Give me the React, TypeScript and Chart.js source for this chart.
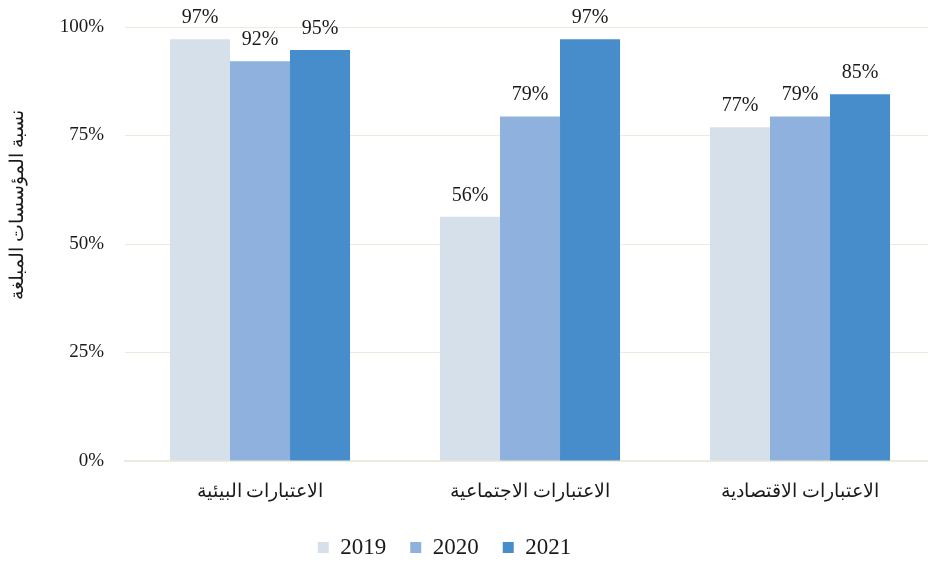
import React, { useEffect, useRef } from "react";
import { Chart, registerables } from "chart.js";

Chart.register(...registerables);

const categories = ["الاعتبارات البيئية", "الاعتبارات الاجتماعية", "الاعتبارات الاقتصادية"];
const seriesNames = ["2019", "2020", "2021"];
const values2019 = [97.2, 56.3, 76.9];
const values2020 = [92.1, 79.4, 79.4];
const values2021 = [94.7, 97.2, 84.5];
const yTicks = [0, 25, 50, 75, 100];
const colors = ["#D6E0EA", "#8EB1DE", "#478DCB"];
const yTitle = "نسبة المؤسسات المبلغة";

const FONT = "'Liberation Serif', 'Times New Roman', serif";
const SHIFT = 46;

const dataLabelPlugin = {
  id: "dataLabels",
  afterDatasetsDraw(chart: any) {
    const ctx = chart.ctx;
    ctx.save();
    ctx.font = `20px ${FONT}`;
    ctx.fillStyle = "#1a1a1a";
    ctx.textAlign = "center";
    ctx.textBaseline = "alphabetic";
    chart.data.datasets.forEach((ds: any, i: number) => {
      const meta = chart.getDatasetMeta(i);
      meta.data.forEach((bar: any, j: number) => {
        const v = ds.data[j];
        ctx.fillText(Math.round(v) + "%", bar.x, bar.y - 16);
      });
    });
    ctx.restore();
  },
};

const yTitlePlugin = {
  id: "yTitle",
  afterDraw(chart: any) {
    const ctx = chart.ctx;
    const a = chart.chartArea;
    ctx.save();
    ctx.font = `18.5px ${FONT}`;
    ctx.fillStyle = "#1a1a1a";
    ctx.textAlign = "center";
    ctx.textBaseline = "middle";
    ctx.translate(a.left - 107, a.top + (a.bottom - a.top) * 0.41);
    ctx.rotate(-Math.PI / 2);
    ctx.fillText(yTitle, 0, 0);
    ctx.restore();
  },
};

export default function App() {
  const ref = useRef<HTMLCanvasElement | null>(null);
  useEffect(() => {
    if (!ref.current) return;
    const chart = new Chart(ref.current, {
      type: "bar",
      data: {
        labels: categories,
        datasets: [values2019, values2020, values2021].map((d, i) => ({
          label: seriesNames[i],
          data: d,
          backgroundColor: colors[i],
          borderWidth: 0,
          barPercentage: 1,
          categoryPercentage: 0.667,
        })),
      },
      options: {
        animation: false,
        responsive: false,
        maintainAspectRatio: false,
        layout: { padding: { top: 27, right: 0, left: 0, bottom: 0 } },
        plugins: {
          legend: {
            position: "bottom",
            labels: {
              font: { family: FONT, size: 23 },
              color: "#1a1a1a",
              boxWidth: 11,
              boxHeight: 11,
              padding: 24,
            },
          },
          tooltip: { enabled: false },
        },
        scales: {
          x: {
            grid: { display: false },
            border: { display: true, color: "#EBEDD9", width: 2 },
            ticks: {
              font: { family: FONT, size: 19 },
              color: "#1a1a1a",
              padding: 12,
            },
            afterFit(scale: any) {
              scale.height = 51;
            },
          },
          y: {
            min: 0,
            max: 100,
            afterBuildTicks(scale: any) {
              scale.ticks = yTicks.map((v) => ({ value: v }));
            },
            grid: {
              color: "#ECECDC",
              drawTicks: true,
              tickLength: 17,
              tickColor: "rgba(0,0,0,0)",
            },
            border: { display: false },
            ticks: {
              font: { family: FONT, size: 19 },
              color: "#1a1a1a",
              padding: 4,
              callback: (v: any) => v + "%",
            },
            afterFit(scale: any) {
              scale.width = 125 + SHIFT;
            },
          },
        },
      },
      plugins: [dataLabelPlugin, yTitlePlugin],
    });
    return () => chart.destroy();
  }, []);
  return (
    <div style={{ position: "fixed", left: 0, top: 0, width: 928, height: 563, overflow: "hidden", background: "#fff" }}>
      <canvas
        ref={ref}
        width={981}
        height={569}
        style={{ position: "absolute", left: -SHIFT, top: 0, width: 981, height: 569 }}
      />
    </div>
  );
}
